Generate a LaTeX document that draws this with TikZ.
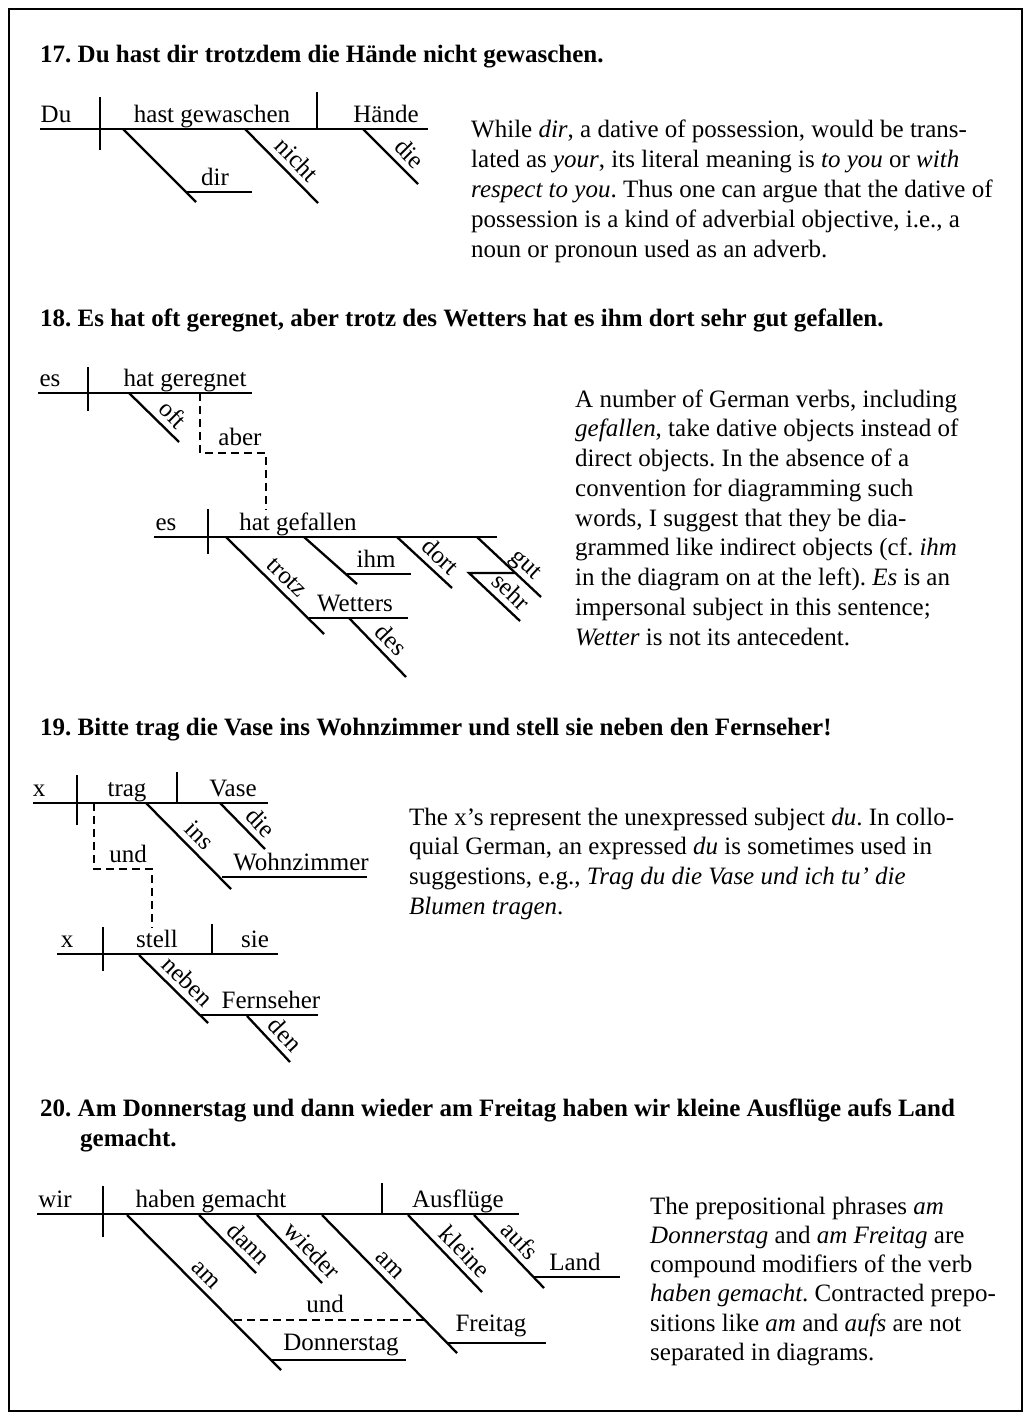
\documentclass[tikz,border=0pt]{standalone}
\usepackage{fontspec}
\setmainfont{Liberation Serif}
\begin{document}
\frenchspacing
\begin{tikzpicture}[x=1pt,y=-1pt,
  rule/.style={line width=2.3pt},
  dashrule/.style={line width=2pt, dash pattern=on 8pt off 5pt},
  word/.style={font=\fontsize{25}{30}\selectfont, inner sep=0pt, anchor=base},
  slant/.style={font=\fontsize{25}{30}\selectfont, sloped, above, text depth=0pt, inner sep=6pt},
  para/.style={font=\fontsize{25}{30}\selectfont, inner sep=0pt, anchor=base west},
  head/.style={font=\bfseries\fontsize{25}{30}\selectfont, inner sep=0pt, anchor=base west}]
\useasboundingbox (0,0) rectangle (1029,1422);
\draw[line width=2pt] (9,9) rectangle (1022,1411);

% ================= 17 =================
\node[head] (h17) at (40,62) {17. Du hast dir trotzdem die Hände nicht gewaschen.};
\coordinate (a17L) at (40,129); \coordinate (a17R) at (428,129);
\coordinate (a17bt) at (100,97); \coordinate (a17bb) at (100,150);
\coordinate (a17ot) at (317,92); \coordinate (a17ob) at (317,129);
\coordinate (a17d1) at (123,129); \coordinate (a17d2) at (196,202);
\coordinate (a17h1) at (186,192); \coordinate (a17h2) at (252,192);
\coordinate (a17n1) at (245,129); \coordinate (a17n2) at (318,203);
\coordinate (a17e1) at (363,129); \coordinate (a17e2) at (418,184);
\draw[rule] (a17L) -- (a17R);
\draw[rule] (a17bt) -- (a17bb);
\draw[rule] (a17ot) -- (a17ob);
\draw[rule] (a17d1) -- (a17d2);
\draw[rule] (a17h1) -- (a17h2);
\draw[rule] (a17n1) -- node[slant,pos=0.56] (w17nicht) {nicht} (a17n2);
\draw[rule] (a17e1) -- node[slant,pos=0.65] (w17die) {die} (a17e2);
\node[word] (w17du) at (56,122) {Du};
\node[word] (w17verb) at (212,122) {hast gewaschen};
\node[word] (w17obj) at (386,122) {Hände};
\node[word] (w17dir) at (215,185) {dir};

\node[para] (p17a) at (471,137) {While \textit{dir}, a dative of possession, would be trans-};
\node[para] (p17b) at (471,167) {lated as \textit{your}, its literal meaning is \textit{to you} or \textit{with}};
\node[para] (p17c) at (471,197) {\textit{respect to you}. Thus one can argue that the dative of};
\node[para] (p17d) at (471,227) {possession is a kind of adverbial objective, i.e., a};
\node[para] (p17e) at (471,257) {noun or pronoun used as an adverb.};

% ================= 18 =================
\node[head] (h18) at (40,326) {18. Es hat oft geregnet, aber trotz des Wetters hat es ihm dort sehr gut gefallen.};
\coordinate (b1L) at (38,393); \coordinate (b1R) at (252,393);
\coordinate (b1bt) at (88,367); \coordinate (b1bb) at (88,411);
\coordinate (b1o1) at (129,393); \coordinate (b1o2) at (179,442);
\coordinate (b1k1) at (200,393); \coordinate (b1k2) at (200,453);
\coordinate (b1k3) at (266,453); \coordinate (b1k4) at (266,510);
\draw[rule] (b1L) -- (b1R);
\draw[rule] (b1bt) -- (b1bb);
\draw[rule] (b1o1) -- node[slant,pos=0.66] (w18oft) {oft} (b1o2);
\draw[dashrule] (b1k1) -- (b1k2) -- (b1k3) -- (b1k4);
\node[word] (w18es1) at (50,386) {es};
\node[word] (w18v1) at (185,386) {hat geregnet};
\node[word] (w18aber) at (240,445) {aber};

\coordinate (b2L) at (154,537); \coordinate (b2R) at (497,537);
\coordinate (b2bt) at (208,509); \coordinate (b2bb) at (208,554);
\coordinate (b2t1) at (226,537); \coordinate (b2t2) at (324,634);
\coordinate (b2w1) at (309,618); \coordinate (b2w2) at (408,618);
\coordinate (b2d1) at (349,618); \coordinate (b2d2) at (406,677);
\coordinate (b2i1) at (304,537); \coordinate (b2i2) at (357,584);
\coordinate (b2j1) at (347,574); \coordinate (b2j2) at (411,574);
\coordinate (b2o1) at (397,537); \coordinate (b2o2) at (452,588);
\coordinate (b2g1) at (477,537); \coordinate (b2g2) at (541,597);
\coordinate (b2s0) at (515,573); \coordinate (b2s1) at (469,573); \coordinate (b2s2) at (520,621);
\draw[rule] (b2L) -- (b2R);
\draw[rule] (b2bt) -- (b2bb);
\draw[rule] (b2t1) -- node[slant,pos=0.52] (w18trotz) {trotz} (b2t2);
\draw[rule] (b2w1) -- (b2w2);
\draw[rule] (b2d1) -- node[slant,pos=0.55] (w18des) {des} (b2d2);
\draw[rule] (b2i1) -- (b2i2);
\draw[rule] (b2j1) -- (b2j2);
\draw[rule] (b2o1) -- node[slant,pos=0.6] (w18dort) {dort} (b2o2);
\draw[rule] (b2g1) -- node[slant,pos=0.62] (w18gut) {gut} (b2g2);
\draw[rule] (b2s0) -- (b2s1) -- node[slant,pos=0.62] (w18sehr) {sehr} (b2s2);
\node[word] (w18es2) at (166,530) {es};
\node[word] (w18v2) at (298,530) {hat gefallen};
\node[word] (w18ihm) at (376,567) {ihm};
\node[word] (w18wet) at (355,611) {Wetters};

\node[para] (p18a) at (575,407) {A number of German verbs, including};
\node[para] (p18b) at (575,436.75) {\textit{gefallen}, take dative objects instead of};
\node[para] (p18c) at (575,466.5) {direct objects. In the absence of a};
\node[para] (p18d) at (575,496.25) {convention for diagramming such};
\node[para] (p18e) at (575,526) {words, I suggest that they be dia-};
\node[para] (p18f) at (575,555.75) {grammed like indirect objects (cf. \textit{ihm}};
\node[para] (p18g) at (575,585.5) {in the diagram on at the left). \textit{Es} is an};
\node[para] (p18h) at (575,615.25) {impersonal subject in this sentence;};
\node[para] (p18i) at (575,645) {\textit{Wetter} is not its antecedent.};

% ================= 19 =================
\node[head] (h19) at (40,735) {19. Bitte trag die Vase ins Wohnzimmer und stell sie neben den Fernseher!};
\coordinate (c1L) at (33,803); \coordinate (c1R) at (268,803);
\coordinate (c1bt) at (77,775); \coordinate (c1bb) at (77,825);
\coordinate (c1ot) at (177,772); \coordinate (c1ob) at (177,803);
\coordinate (c1e1) at (220,803); \coordinate (c1e2) at (265,849);
\coordinate (c1n1) at (146,803); \coordinate (c1n2) at (231,889);
\coordinate (c1w1) at (222,877); \coordinate (c1w2) at (367,877);
\coordinate (c1k1) at (94,803); \coordinate (c1k2) at (94,869);
\coordinate (c1k3) at (152,869); \coordinate (c1k4) at (152,928);
\draw[rule] (c1L) -- (c1R);
\draw[rule] (c1bt) -- (c1bb);
\draw[rule] (c1ot) -- (c1ob);
\draw[rule] (c1e1) -- node[slant,pos=0.66] (w19die) {die} (c1e2);
\draw[rule] (c1n1) -- node[slant,pos=0.5] (w19ins) {ins} (c1n2);
\draw[rule] (c1w1) -- (c1w2);
\draw[dashrule] (c1k1) -- (c1k2) -- (c1k3) -- (c1k4);
\node[word] (w19x1) at (39,796) {x};
\node[word] (w19trag) at (127,796) {trag};
\node[word] (w19vase) at (233,796) {Vase};
\node[word] (w19wohn) at (301,870) {Wohnzimmer};
\node[word] (w19und) at (128,862) {und};

\coordinate (c2L) at (57,954); \coordinate (c2R) at (278,954);
\coordinate (c2bt) at (103,927); \coordinate (c2bb) at (103,971);
\coordinate (c2ot) at (212,924); \coordinate (c2ob) at (212,954);
\coordinate (c2n1) at (139,955); \coordinate (c2n2) at (208,1023);
\coordinate (c2f1) at (200,1015); \coordinate (c2f2) at (318,1015);
\coordinate (c2d1) at (247,1016); \coordinate (c2d2) at (290,1062);
\draw[rule] (c2L) -- (c2R);
\draw[rule] (c2bt) -- (c2bb);
\draw[rule] (c2ot) -- (c2ob);
\draw[rule] (c2n1) -- node[slant,pos=0.55] (w19neben) {neben} (c2n2);
\draw[rule] (c2f1) -- (c2f2);
\draw[rule] (c2d1) -- node[slant,pos=0.63] (w19den) {den} (c2d2);
\node[word] (w19x2) at (67,947) {x};
\node[word] (w19stell) at (157,947) {stell};
\node[word] (w19sie) at (255,947) {sie};
\node[word] (w19fern) at (271,1008) {Fernseher};

\node[para] (p19a) at (409,825) {The x’s represent the unexpressed subject \textit{du}. In collo-};
\node[para] (p19b) at (409,854.7) {quial German, an expressed \textit{du} is sometimes used in};
\node[para] (p19c) at (409,884.4) {suggestions, e.g., \textit{Trag du die Vase und ich tu’ die}};
\node[para] (p19d) at (409,914.1) {\textit{Blumen tragen}.};

% ================= 20 =================
\node[head] (h20a) at (40,1116) {20. Am Donnerstag und dann wieder am Freitag haben wir kleine Ausflüge aufs Land};
\node[head] (h20b) at (80,1146) {gemacht.};
\coordinate (d1L) at (37,1214); \coordinate (d1R) at (519,1214);
\coordinate (d1bt) at (103,1186); \coordinate (d1bb) at (103,1237);
\coordinate (d1ot) at (382,1183); \coordinate (d1ob) at (382,1214);
\coordinate (d1a1) at (127,1215); \coordinate (d1a2) at (281,1370);
\coordinate (d1n1) at (199,1215); \coordinate (d1n2) at (256,1273);
\coordinate (d1w1) at (257,1215); \coordinate (d1w2) at (322,1283);
\coordinate (d1m1) at (322,1215); \coordinate (d1m2) at (457,1353);
\coordinate (d1k1) at (408,1215); \coordinate (d1k2) at (482,1292);
\coordinate (d1f1) at (474,1215); \coordinate (d1f2) at (544,1288);
\coordinate (d1l1) at (534,1277); \coordinate (d1l2) at (620,1277);
\coordinate (d1r1) at (447,1343); \coordinate (d1r2) at (546,1343);
\coordinate (d1s1) at (272,1360); \coordinate (d1s2) at (406,1360);
\coordinate (d1u1) at (234,1320); \coordinate (d1u2) at (425,1320);
\draw[rule] (d1L) -- (d1R);
\draw[rule] (d1bt) -- (d1bb);
\draw[rule] (d1ot) -- (d1ob);
\draw[rule] (d1a1) -- node[slant,pos=0.45] (w20am1) {am} (d1a2);
\draw[rule] (d1n1) -- node[slant,pos=0.68] (w20dann) {dann} (d1n2);
\draw[rule] (d1w1) -- node[slant,pos=0.68] (w20wieder) {wieder} (d1w2);
\draw[rule] (d1m1) -- node[slant,pos=0.43] (w20am2) {am} (d1m2);
\draw[rule] (d1k1) -- node[slant,pos=0.62] (w20kleine) {kleine} (d1k2);
\draw[rule] (d1f1) -- node[slant,pos=0.5] (w20aufs) {aufs} (d1f2);
\draw[rule] (d1l1) -- (d1l2);
\draw[rule] (d1r1) -- (d1r2);
\draw[rule] (d1s1) -- (d1s2);
\draw[dashrule] (d1u1) -- (d1u2);
\node[word] (w20wir) at (55,1207) {wir};
\node[word] (w20verb) at (211,1207) {haben gemacht};
\node[word] (w20obj) at (458,1207) {Ausflüge};
\node[word] (w20land) at (575,1270) {Land};
\node[word] (w20frei) at (491,1331) {Freitag};
\node[word] (w20donn) at (341,1350) {Donnerstag};
\node[word] (w20und) at (325,1312) {und};

\node[para] (p20a) at (650,1214) {The prepositional phrases \textit{am}};
\node[para] (p20b) at (650,1243.3) {\textit{Donnerstag} and \textit{am Freitag} are};
\node[para] (p20c) at (650,1272.6) {compound modifiers of the verb};
\node[para] (p20d) at (650,1301.9) {\textit{haben gemacht}. Contracted prepo-};
\node[para] (p20e) at (650,1331.2) {sitions like \textit{am} and \textit{aufs} are not};
\node[para] (p20f) at (650,1360.5) {separated in diagrams.};
\end{tikzpicture}
\end{document}
